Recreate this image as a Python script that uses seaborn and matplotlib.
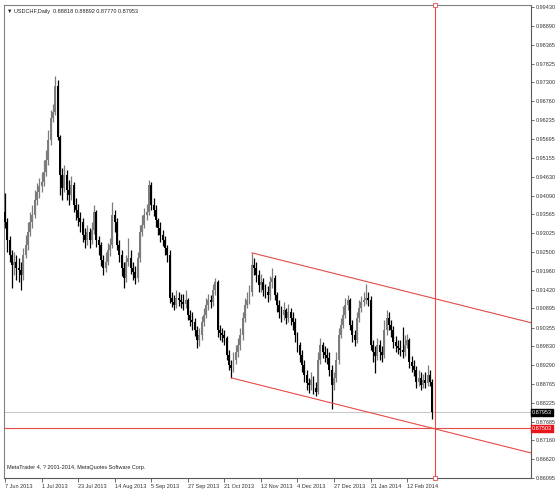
import matplotlib
matplotlib.use("Agg")
import matplotlib.pyplot as plt
import seaborn as sns
import pandas as pd
from matplotlib.transforms import blended_transform_factory

# --- Data ---
symbol = "USDCHF,Daily"
first_open = 0.9363

closes = [
    0.9335, 0.9284, 0.9241, 0.9213, 0.9221, 0.9204, 0.9199, 0.9185, 0.9241, 0.9269,
    0.9306, 0.9335, 0.9354, 0.9397, 0.9419, 0.9436, 0.9448, 0.9476, 0.9510, 0.9567,
    0.9629, 0.9646, 0.9719, 0.9575, 0.9468, 0.9431, 0.9468, 0.9425, 0.9411, 0.9439,
    0.9383, 0.9369, 0.9346, 0.9335, 0.9298, 0.9284, 0.9306, 0.9284, 0.9312, 0.9363,
    0.9284, 0.9269, 0.9227, 0.9204, 0.9221, 0.9255, 0.9269, 0.9354, 0.9335, 0.9269,
    0.9241, 0.9204, 0.9176, 0.9221, 0.9233, 0.9204, 0.9193, 0.9176, 0.9233, 0.9306,
    0.9326, 0.9354, 0.9363, 0.9439, 0.9383, 0.9369, 0.9340, 0.9318, 0.9298, 0.9284,
    0.9261, 0.9241, 0.9119, 0.9108, 0.9100, 0.9119, 0.9114, 0.9108,
    0.9102, 0.9114, 0.9071, 0.9057, 0.9052, 0.9029, 0.9001, 0.9015, 0.9052, 0.9071,
    0.9100, 0.9114, 0.9108,
    0.9142, 0.9165, 0.9029, 0.9020, 0.9015, 0.9006, 0.8958, 0.8930, 0.8921, 0.8944,
    0.8967, 0.8986, 0.9015, 0.9063, 0.9100, 0.9114, 0.9136, 0.9213, 0.9204, 0.9185,
    0.9156, 0.9165, 0.9142, 0.9136, 0.9128, 0.9165, 0.9176, 0.9128, 0.9100, 0.9080,
    0.9071, 0.9086, 0.9063, 0.9080, 0.9063, 0.9052, 0.9015, 0.8986, 0.8958, 0.8930,
    0.8902, 0.8879, 0.8873, 0.8887, 0.8865, 0.8853, 0.8944, 0.8986, 0.8967, 0.8958,
    0.8950, 0.8916, 0.8873, 0.8893, 0.8944, 0.9015, 0.9043, 0.9071, 0.9100, 0.9114,
    0.9043, 0.9015, 0.9001, 0.9063, 0.9091, 0.9108, 0.9114, 0.9119, 0.9114, 0.8986,
    0.8967, 0.8955, 0.8986, 0.8967, 0.8958, 0.9029, 0.9063, 0.9043, 0.9029, 0.8995,
    0.8984, 0.8978,
    0.8972, 0.8967, 0.8986, 0.9001, 0.8938, 0.8927, 0.8916, 0.8882, 0.8893,
    0.8873, 0.8887, 0.8879, 0.8902, 0.88818, 0.87953,
]

highs = [
    0.9417, 0.9346, 0.9295, 0.9255, 0.9250, 0.9241, 0.9233, 0.9221, 0.9261, 0.9298,
    0.9335, 0.9363, 0.9383, 0.9425, 0.9445, 0.9459, 0.9476, 0.9510, 0.9538, 0.9595,
    0.9652, 0.9668, 0.9748, 0.9736, 0.9581, 0.9487, 0.9496, 0.9482, 0.9453, 0.9465,
    0.9448, 0.9402, 0.9385, 0.9363, 0.9346, 0.9318, 0.9326, 0.9318, 0.9335, 0.9383,
    0.9369, 0.9295, 0.9278, 0.9241, 0.9250, 0.9275, 0.9289, 0.9391, 0.9369, 0.9346,
    0.9284, 0.9255, 0.9221, 0.9241, 0.9289, 0.9255, 0.9221, 0.9210, 0.9250, 0.9326,
    0.9354, 0.9374, 0.9385, 0.9453, 0.9448, 0.9402, 0.9383, 0.9346, 0.9335, 0.9312,
    0.9295, 0.9269, 0.9255, 0.9136, 0.9128, 0.9142, 0.9136, 0.9131,
    0.9131, 0.9142, 0.9119, 0.9086, 0.9080, 0.9063, 0.9040, 0.9035, 0.9069, 0.9091,
    0.9119, 0.9131, 0.9128,
    0.9159, 0.9176, 0.9170, 0.9043, 0.9035, 0.9029, 0.9012, 0.8972, 0.8944, 0.8967,
    0.8986, 0.9006, 0.9035, 0.9080, 0.9119, 0.9136, 0.9156, 0.9247, 0.9233, 0.9221,
    0.9199, 0.9187, 0.9176, 0.9159, 0.9153, 0.9182, 0.9204, 0.9185, 0.9136, 0.9114,
    0.9097, 0.9108, 0.9091, 0.9102, 0.9091, 0.9080, 0.9063, 0.9023, 0.8995, 0.8972,
    0.8944, 0.8916, 0.8893, 0.8910, 0.8899, 0.8882, 0.8967, 0.9006, 0.8995, 0.8984,
    0.8978, 0.8967, 0.8930, 0.8910, 0.8967, 0.9035, 0.9063, 0.9097, 0.9119, 0.9128,
    0.9119, 0.9057, 0.9029, 0.9080, 0.9114, 0.9125, 0.9136, 0.9160, 0.9136, 0.9125,
    0.9001, 0.8984, 0.9006, 0.9001, 0.8984, 0.9057, 0.9086, 0.9080, 0.9057, 0.9040,
    0.9012, 0.9001,
    0.9001, 0.9037, 0.9015, 0.9018, 0.9006, 0.8955, 0.8944, 0.8927, 0.8916,
    0.8910, 0.8904, 0.8910, 0.8930, 0.8916, 0.88892,
]

lows = [
    0.9318, 0.9250, 0.9221, 0.9148, 0.9185, 0.9170, 0.9165, 0.9142, 0.9170, 0.9233,
    0.9255, 0.9295, 0.9318, 0.9346, 0.9383, 0.9402, 0.9419, 0.9436, 0.9465, 0.9496,
    0.9552, 0.9618, 0.9637, 0.9567, 0.9411, 0.9397, 0.9419, 0.9397, 0.9383, 0.9397,
    0.9363, 0.9340, 0.9323, 0.9306, 0.9278, 0.9261, 0.9269, 0.9261, 0.9272, 0.9301,
    0.9264, 0.9241, 0.9210, 0.9185, 0.9193, 0.9213, 0.9238, 0.9261, 0.9306, 0.9255,
    0.9221, 0.9182, 0.9148, 0.9165, 0.9210, 0.9187, 0.9170, 0.9159, 0.9165, 0.9221,
    0.9295, 0.9318, 0.9340, 0.9354, 0.9369, 0.9352, 0.9320, 0.9298, 0.9278, 0.9267,
    0.9241, 0.9221, 0.9105, 0.9094, 0.9086, 0.9091, 0.9097, 0.9091,
    0.9086, 0.9091, 0.9057, 0.9040, 0.9029, 0.9012, 0.8978, 0.8984, 0.9001, 0.9040,
    0.9063, 0.9086, 0.9091,
    0.9097, 0.9128, 0.9009, 0.9001, 0.8995, 0.8986, 0.8944, 0.8916, 0.8893, 0.8910,
    0.8933, 0.8952, 0.8972, 0.9001, 0.9052, 0.9091, 0.9102, 0.9125, 0.9185, 0.9165,
    0.9136, 0.9136, 0.9125, 0.9119, 0.9108, 0.9114, 0.9148, 0.9114, 0.9080, 0.9063,
    0.9052, 0.9057, 0.9046, 0.9052, 0.9043, 0.9029, 0.8995, 0.8967, 0.8938, 0.8910,
    0.8882, 0.8859, 0.8851, 0.8859, 0.8848, 0.8842, 0.8848, 0.8933, 0.8950, 0.8938,
    0.8933, 0.8899, 0.8805, 0.8859, 0.8882, 0.8933, 0.9006, 0.9035, 0.9063, 0.9086,
    0.9029, 0.8995, 0.8984, 0.8992, 0.9052, 0.9080, 0.9097, 0.9102, 0.9097, 0.8972,
    0.8938, 0.8907, 0.8944, 0.8944, 0.8938, 0.8950, 0.9015, 0.9029, 0.9009, 0.8978,
    0.8967, 0.8961,
    0.8955, 0.8950, 0.8955, 0.8978, 0.8921, 0.8910, 0.8899, 0.8865, 0.8870,
    0.8859, 0.8865, 0.8865, 0.8870, 0.8870, 0.87770,
]

date_ticks = [0, 16, 32, 48, 64, 80, 96, 112, 128, 144, 160, 176]
date_labels = ["7 Jun 2013", "1 Jul 2013", "23 Jul 2013", "14 Aug 2013", "5 Sep 2013",
               "27 Sep 2013", "21 Oct 2013", "12 Nov 2013", "4 Dec 2013", "27 Dec 2013",
               "21 Jan 2014", "12 Feb 2014"]

price_labels = [0.99430, 0.98890, 0.98365, 0.97825, 0.97300, 0.96760, 0.96235, 0.95695,
                0.95155, 0.94630, 0.94090, 0.93565, 0.93025, 0.92500, 0.91960, 0.91420,
                0.90895, 0.90355, 0.89830, 0.89290, 0.88765, 0.88225, 0.87685, 0.87160,
                0.86620, 0.86095]

bid_price = 0.87953
hline_price = 0.87503
vline_bar = 188
upper_bars = [108, 158]
upper_prices = [0.9247, 0.9166]
lower_bars = [99, 149]
lower_prices = [0.8893, 0.8812]

# --- Frame ---
df = pd.DataFrame({"close": closes, "high": highs, "low": lows})
df["open"] = [first_open] + closes[:-1]
df["bar"] = range(len(df))
df["high"] = df[["high", "open", "close"]].max(axis=1)
df["low"] = df[["low", "open", "close"]].min(axis=1)
df["bull"] = df["close"] >= df["open"]

sns.set_theme(style="white")
plt.rcParams["font.family"] = ["Liberation Sans", "DejaVu Sans"]

RED = "#e44b45"
FS = 4.0
W, H = 556, 490
fig = plt.figure(figsize=(W / 100, H / 100), dpi=100)
fig.patch.set_facecolor("white")
ax = fig.add_axes([4 / W, 1 - 478 / H, 527 / W, 473 / H])
ax.set_facecolor("white")

x_left, x_right = -0.44, 230.2
ax.set_xlim(x_left, x_right)
ax.set_ylim(0.86101, 0.99486)

# candles: bull = grey, bear = black
for bull, grp in df.groupby("bull"):
    col = "#7c7c7c" if bull else "#000000"
    ax.vlines(grp["bar"], grp["low"], grp["high"], colors=col, linewidth=0.9, zorder=3)
    body = (grp["close"] - grp["open"]).abs().clip(lower=0.00025)
    ax.bar(grp["bar"], body, bottom=grp[["open", "close"]].min(axis=1),
           width=0.85, color=col, linewidth=0, zorder=4)

# bid line, horizontal and vertical red lines
ax.axhline(bid_price, color="#c9c9c9", linewidth=0.8, zorder=2)
ax.axhline(hline_price, color=RED, linewidth=0.8, zorder=5)
ax.axvline(vline_bar, color=RED, linewidth=0.8, zorder=5)
ax.plot([vline_bar, vline_bar], list(ax.get_ylim()), linestyle="none", marker="s",
        markersize=2.5, markerfacecolor="white", markeredgecolor=RED,
        markeredgewidth=0.6, clip_on=False, zorder=6)

# equidistant channel (rays to the right edge)
for bars, prices in [(upper_bars, upper_prices), (lower_bars, lower_prices)]:
    slope = (prices[1] - prices[0]) / (bars[1] - bars[0])
    xs = [bars[0], x_right]
    ys = [prices[0], prices[0] + slope * (x_right - bars[0])]
    sns.lineplot(x=xs, y=ys, ax=ax, color=RED, linewidth=0.8, zorder=5,
                 legend=False, sort=False)

# axes styling
for side in ["left", "top"]:
    ax.spines[side].set_color("#808080")
    ax.spines[side].set_linewidth(0.8)
for side in ["right", "bottom"]:
    ax.spines[side].set_color("#5a5a5a")
    ax.spines[side].set_linewidth(0.8)

ax.yaxis.tick_right()
ax.set_yticks(price_labels)
ax.set_yticklabels([f"{p:.5f}" for p in price_labels])
ax.set_xticks(date_ticks)
ax.set_xticklabels(date_labels, ha="left")
ax.tick_params(axis="y", direction="out", length=2.5, width=0.6, colors="#555555",
               labelsize=FS, labelcolor="#333333", pad=0.8, right=True, left=False)
ax.tick_params(axis="x", direction="out", length=3, width=0.6, colors="#555555",
               labelsize=FS, labelcolor="#333333", pad=1.2, bottom=True)
ax.set_xlabel("")
ax.set_ylabel("")
ax.grid(False)

# price boxes on the right scale
tr = blended_transform_factory(ax.transAxes, ax.transData)
ax.text(1.002, bid_price, f"{bid_price:.5f}", transform=tr, ha="left", va="center",
        fontsize=FS, color="white", zorder=7, clip_on=False,
        bbox=dict(boxstyle="square,pad=0.2", facecolor="black", edgecolor="black"))
ax.text(1.002, hline_price, f"{hline_price:.5f}", transform=tr, ha="left", va="center",
        fontsize=FS, color="white", zorder=7, clip_on=False,
        bbox=dict(boxstyle="square,pad=0.2", facecolor="#e8141c", edgecolor="#e8141c"))

# header and footer
last = df.iloc[-1]
header = (f"\u25bc {symbol}  {last['open']:.5f} {last['high']:.5f} "
          f"{last['low']:.5f} {last['close']:.5f}")
fig.text(7 / W, 1 - 11 / H, header, fontsize=FS, color="#222222", va="center")
fig.text(7 / W, 1 - 467 / H, "MetaTrader 4, ? 2001-2014, MetaQuotes Software Corp.",
         fontsize=FS, color="#222222", va="center")

fig.savefig("out.png", dpi=100, facecolor="white")
